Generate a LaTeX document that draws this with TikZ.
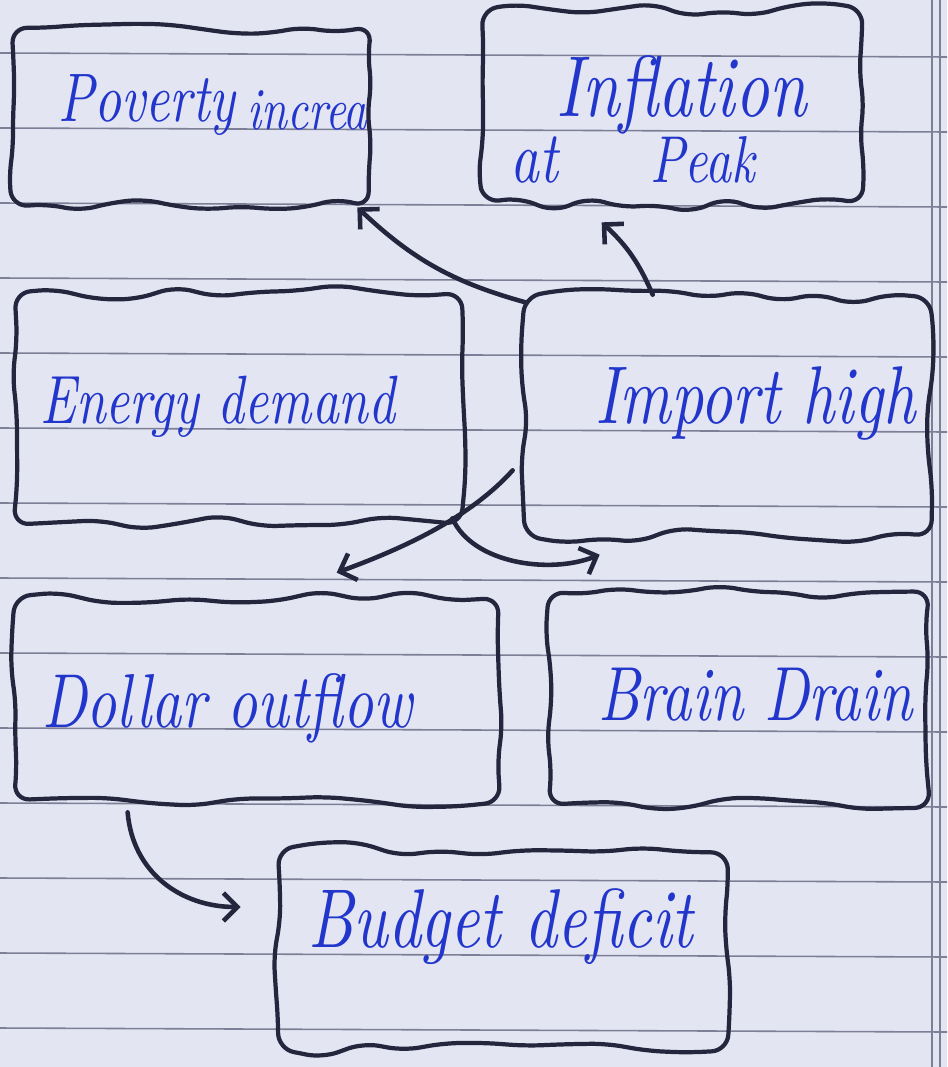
\documentclass[tikz,border=0pt]{standalone}
\usetikzlibrary{fit,calc,arrows.meta}
\definecolor{paper}{HTML}{E3E5F3}
\definecolor{rulecol}{HTML}{7C7F95}
\definecolor{ink}{HTML}{23263D}
\definecolor{pen}{HTML}{2236CC}
\newcommand{\handtext}[2]{\resizebox{#1}{!}{\scalebox{1}[1.3]{\itshape #2}}}
\newcommand{\wobblebox}[1]{%
  \draw[boxline] (#1.north west)
    \foreach \f in {0.09,0.18,...,0.92} {-- ($(#1.north west)!\f!(#1.north east)+(0,{8*rand})$)}
    -- ($(#1.north east)+({2*rand},{3*rand})$)
    \foreach \f in {0.16,0.32,...,0.9} {-- ($(#1.north east)!\f!(#1.south east)+({4*rand},0)$)}
    -- ($(#1.south east)+({2*rand},{3*rand})$)
    \foreach \f in {0.09,0.18,...,0.92} {-- ($(#1.south east)!\f!(#1.south west)+(0,{8*rand})$)}
    -- ($(#1.south west)+({2*rand},{3*rand})$)
    \foreach \f in {0.16,0.32,...,0.9} {-- ($(#1.south west)!\f!(#1.north west)+({4*rand},0)$)}
    -- cycle;}
\begin{document}
\begin{tikzpicture}[x=0.02cm,y=-0.02cm,
  rulel/.style={draw=rulecol,line width=0.9pt},
  boxline/.style={draw=ink,line width=2.4pt,rounded corners=9pt,line join=round},
  box/.style={inner sep=0pt},
  lbl/.style={text=pen,anchor=base west,inner sep=0pt},
  arr/.style={draw=ink,line width=2.6pt,line cap=round,
    -{Straight Barb[length=8pt,width=16pt,line width=2.6pt]}}]
\useasboundingbox (0,0) rectangle (947,1067);
\fill[paper] (0,0) rectangle (947,1067);
\foreach \yy in {53,128,...,1028} \draw[rulel] (0,\yy) -- (947,\yy+4);
\draw[rulel] (932,0) -- (932,1067);
\draw[rulel] (940,0) -- (940,1067);
\pgfmathsetseed{11}
% boxes
\node[box,fit={(12,28) (370,205)}] (pov) {};
\node[box,fit={(482,10) (862,205)}] (infl) {};
\node[box,fit={(15,293) (462,522)}] (ene) {};
\node[box,fit={(525,297) (930,535)}] (imp) {};
\node[box,fit={(15,597) (500,800)}] (dol) {};
\node[box,fit={(549,592) (928,805)}] (brain) {};
\node[box,fit={(278,850) (728,1050)}] (bud) {};
\wobblebox{pov}
\wobblebox{infl}
\wobblebox{ene}
\wobblebox{imp}
\wobblebox{dol}
\wobblebox{brain}
\wobblebox{bud}
% texts
\node[lbl] (povt) at (58,122) {\handtext{3.54cm}{Poverty}};
\node[lbl] (povt2) at (247,130) {\handtext{2.4cm}{increa}};
\node[lbl] (inflt) at (556,117) {\handtext{5.0cm}{Inflation}};
\node[lbl] (inflt2) at (510,183) {\handtext{0.95cm}{at}};
\node[lbl] (inflt3) at (650,183) {\handtext{2.1cm}{Peak}};
\node[lbl] (enet) at (40,423) {\handtext{7.1cm}{Energy demand}};
\node[lbl] (impt) at (595,423) {\handtext{6.4cm}{Import high}};
\node[lbl] (dolt) at (42,727) {\handtext{7.4cm}{Dollar outflow}};
\node[lbl] (braint) at (598,720) {\handtext{6.28cm}{Brain Drain}};
\node[lbl] (budt) at (308,947) {\handtext{7.7cm}{Budget deficit}};
% connectors
\draw[arr] ([shift={(2,6)}]imp.north west) to[bend left=14] ([shift={(-13,2)}]pov.south east);
\draw[arr] ([shift={(128,-2)}]imp.north west) to[bend right=12] ([shift={(120,17)}]infl.south west);
\draw[arr] ([shift={(-12,-65)}]imp.south west) .. controls +(-45,50) and +(60,-22) .. ([shift={(322,-24)}]dol.north west);
\draw[arr] ([shift={(-10,-4)}]ene.south east) .. controls +(20,45) and +(-50,20) .. ([shift={(51,-37)}]brain.north west);
\draw[arr] ([shift={(113,12)}]dol.south west) .. controls +(5,60) and +(-60,0) .. ([shift={(-37,-43)}]bud.west);
\end{tikzpicture}
\end{document}
